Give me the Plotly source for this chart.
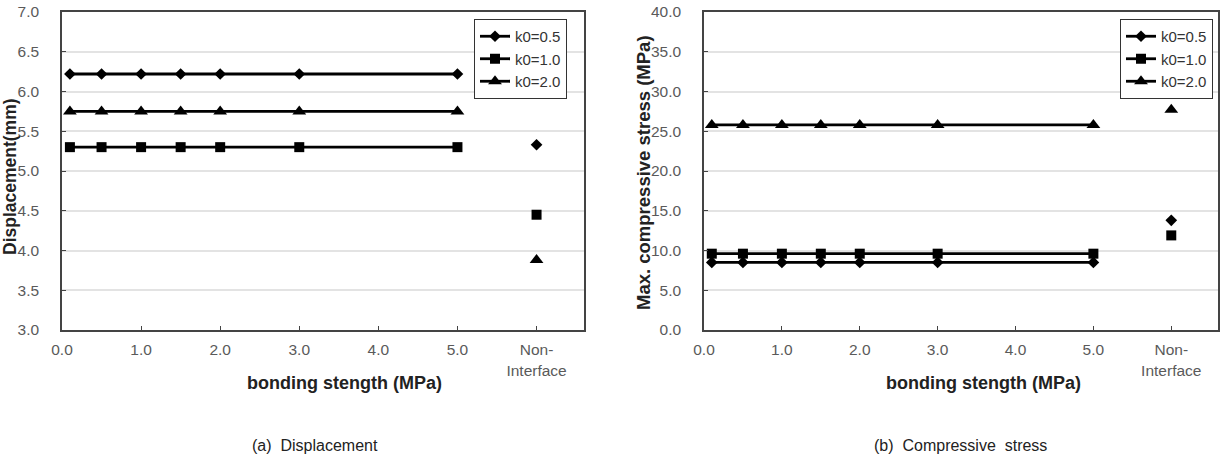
import plotly.graph_objects as go

bond = [0.1, 0.5, 1.0, 1.5, 2.0, 3.0, 5.0]
non_x = 6.0
series_names = ["k0=0.5", "k0=1.0", "k0=2.0"]
markers = ["diamond", "square", "triangle-up"]
msizes = [9, 10, 12]

disp = [[6.22] * 7, [5.30] * 7, [5.75] * 7]
disp_non = [5.33, 4.45, 3.88]
stress = [[8.5] * 7, [9.6] * 7, [25.8] * 7]
stress_non = [13.8, 11.9, 27.7]

xtick_vals = [0, 1, 2, 3, 4, 5, 6]
xtick_text = ["0.0", "1.0", "2.0", "3.0", "4.0", "5.0", "Non-<br>Interface"]

FONT = "Liberation Sans, Arial, sans-serif"
W, H = 1227, 460
fig = go.Figure()

for data, non, xa, ya, leg in [
        (disp, disp_non, "x", "y", "legend"),
        (stress, stress_non, "x2", "y2", "legend2")]:
    for i in range(3):
        fig.add_trace(go.Scatter(
            x=bond, y=data[i], mode="lines+markers", name=series_names[i],
            line=dict(color="black", width=2.8),
            marker=dict(symbol=markers[i], size=msizes[i], color="black"),
            xaxis=xa, yaxis=ya, legend=leg, showlegend=True))
        fig.add_trace(go.Scatter(
            x=[non_x], y=[non[i]], mode="markers", name=series_names[i],
            marker=dict(symbol=markers[i], size=msizes[i], color="black"),
            xaxis=xa, yaxis=ya, showlegend=False))

TICKF = dict(family=FONT, size=15.5, color="#5a5a5a")

xcommon = dict(range=[0, 6.6], tickvals=xtick_vals, ticktext=xtick_text,
               showgrid=False, zeroline=False, showline=True, linecolor="#444",
               linewidth=1.5, mirror=True, ticks="inside", ticklen=4,
               tickcolor="#444", tickfont=TICKF, ticklabelstandoff=5,
               automargin=False)
ycommon = dict(showgrid=True, gridcolor="#e3e3e3", gridwidth=1.5, zeroline=False,
               showline=True, linecolor="#444", linewidth=1.5, mirror=True,
               ticks="inside", ticklen=4, tickcolor="#444",
               tickfont=TICKF, ticklabelstandoff=18, automargin=False)

legcommon = dict(bgcolor="white", bordercolor="#333", borderwidth=1,
                 font=dict(family=FONT, size=15, color="#333"),
                 xanchor="right", yanchor="top", tracegroupgap=0, itemwidth=30)


def px(x, y):
    return x / W, 1 - y / H


def ann(text, x, y, size, bold=False, angle=0, color="#222"):
    ax, ay = px(x, y)
    return dict(text=f"<b>{text}</b>" if bold else text, x=ax, y=ay,
                xref="paper", yref="paper", xanchor="center", yanchor="middle",
                textangle=angle, showarrow=False,
                font=dict(family=FONT, size=size, color=color))


fig.update_layout(
    width=W, height=H,
    margin=dict(l=0, r=0, t=0, b=0, autoexpand=False),
    paper_bgcolor="white", plot_bgcolor="white",
    xaxis=dict(domain=[62 / W, 584 / W], anchor="y", **xcommon),
    yaxis=dict(domain=[1 - 330 / H, 1 - 12 / H], anchor="x", range=[3, 7], dtick=0.5,
               tickformat=".1f", **ycommon),
    xaxis2=dict(domain=[704 / W, 1218 / W], anchor="y2", **xcommon),
    yaxis2=dict(domain=[1 - 330 / H, 1 - 12 / H], anchor="x2", range=[0, 40], dtick=5,
                tickformat=".1f", **ycommon),
    legend=dict(x=567 / W, y=1 - 19 / H, **legcommon),
    legend2=dict(x=1213 / W, y=1 - 19 / H, **legcommon),
    annotations=[
        ann("Displacement(mm)", 10, 177, 17.5, bold=True, angle=-90),
        ann("Max. compressive stress (MPa)", 644, 173, 18.5, bold=True, angle=-90),
        ann("bonding stength (MPa)", 344, 383, 18, bold=True),
        ann("bonding stength (MPa)", 983, 383, 18, bold=True),
        ann("(a)  Displacement", 315, 445, 16),
        ann("(b)  Compressive  stress", 960, 445, 16),
    ],
)

fig.write_html("out.html")
